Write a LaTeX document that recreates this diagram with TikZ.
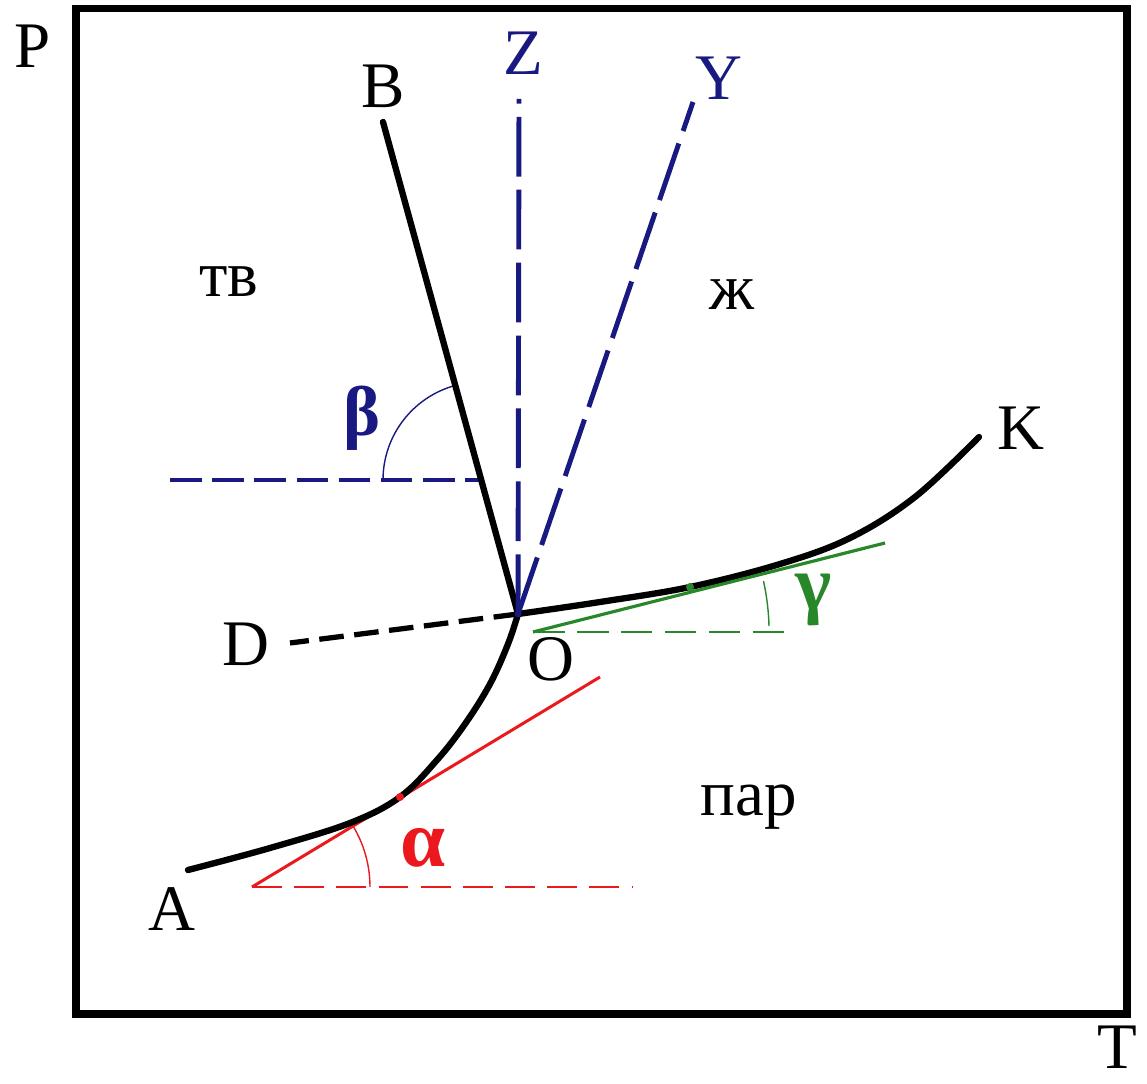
\documentclass[tikz,border=0pt]{standalone}
\usepackage{fontspec}
\setmainfont{Liberation Serif}
\definecolor{dblue}{RGB}{25,25,130}
\definecolor{dgreen}{RGB}{40,135,40}
\definecolor{dred}{RGB}{235,25,30}
\tikzset{
  lbl/.style={font=\fontsize{37}{40}\selectfont, inner sep=0pt, anchor=base},
  greek/.style={font=\fontsize{#1}{#1}\selectfont\bfseries, inner sep=0pt},
  frame/.style={line width=4pt},
  blackcurve/.style={line width=3.6pt, line cap=round, line join=round},
  bluedash/.style={dblue, line width=2.8pt, dash pattern=on 18pt off 6pt},
  bluelong/.style={dblue, line width=2.8pt, dash pattern=on 34pt off 7.5pt},
  blackdash/.style={line width=3pt, dash pattern=on 14pt off 6pt},
  redline/.style={dred, line width=1.7pt},
  reddash/.style={dred, line width=1.3pt, dash pattern=on 17pt off 7pt},
  greenline/.style={dgreen, line width=1.8pt},
  greendash/.style={dgreen, line width=1.3pt, dash pattern=on 18pt off 7pt},
  anglearc/.style={line width=0.8pt},
}
\begin{document}
\begin{tikzpicture}[x=0.02cm,y=-0.02cm]
\useasboundingbox (0,0) rectangle (1147,1084);
\fill[white] (0,0) rectangle (1147,1084);

% frame
\draw[frame] (76,8.5) rectangle (1127,1014);

% key points
\coordinate (O) at (518,614);
\coordinate (Bend) at (383,122);
\coordinate (Zend) at (519,99);
\coordinate (Yend) at (693,102);
\coordinate (Dend) at (290,643);
\coordinate (Kend) at (979,437);
\coordinate (Aend) at (188,870);
% upper curve points
\coordinate (k1) at (600,602);
\coordinate (k2) at (690,587);
\coordinate (k3) at (780,564);
\coordinate (k4) at (850,538);
\coordinate (k5) at (915,497);
% lower curve points
\coordinate (a1) at (508,644);
\coordinate (a2) at (490,684);
\coordinate (a3) at (465,724);
\coordinate (a4) at (437,760);
\coordinate (a5) at (400,797);
\coordinate (a6) at (350,823);
\coordinate (a7) at (270,848);

% tangent construction points
\coordinate (Rs) at (252,887);
\coordinate (Re) at (600,677);
\coordinate (Rd) at (633,887);
\coordinate (Gs) at (533,632);
\coordinate (Ge) at (885,543);
\coordinate (Gd) at (792,632);
\coordinate (Bs) at (170,480);
\coordinate (Bc) at (481,480);

% red construction
\draw[reddash] (Rs) -- (Rd);
\draw[redline] (Rs) -- (Re);
\draw[dred,anglearc] (Rs) ++(118,0) arc[start angle=0, end angle=-31.1, radius=118];

% green construction
\draw[greendash] (Gs) -- (Gd);
\draw[dgreen,anglearc] (Gs) ++(236,-6) arc[start angle=-1.5, end angle=-12.5, radius=236];

% blue horizontal and arc
\draw[bluedash] (Bs) -- (Bc);
\draw[dblue,anglearc] (Bc) ++(-98,0) arc[start angle=180, end angle=254.7, radius=98];

% black curves
\draw[blackcurve] (O) -- (Bend);
\draw[blackcurve] plot[smooth, tension=0.6] coordinates {(O) (k1) (k2) (k3) (k4) (k5) (Kend)};
\draw[blackcurve] plot[smooth, tension=0.6] coordinates {(O) (a1) (a2) (a3) (a4) (a5) (a6) (a7) (Aend)};
\draw[blackdash] (O) -- (Dend);

% green tangent over curve
\draw[greenline] (Gs) -- (Ge);
\fill[dgreen] (k2) circle (4);
\fill[dred] (a5) circle (4);

% blue dashed lines
\draw[bluelong] (O) -- (Zend);
\draw[bluelong] (O) -- (Yend);
\fill[dblue] (O) circle (3.5);

% labels
\node[lbl] (P) at (33,68) {P};
\node[lbl] (T) at (1117,1068) {T};
\node[lbl] (B) at (383,108) {B};
\node[lbl, text=dblue] (Z) at (523,75) {Z};
\node[lbl, text=dblue] (Y) at (719,100) {Y};
\node[lbl] (K) at (1021,450) {K};
\node[lbl] (D) at (246,665) {D};
\node[lbl] (Ol) at (551,681) {O};
\node[lbl] (A) at (172,930) {A};
\node[lbl] (tv) at (229,297) {тв};
\node[lbl] (zh) at (732,310) {ж};
\node[lbl] (par) at (749,815) {пар};

\node[greek=40, text=dblue] (beta) at (362,418) {β};
\node[greek=44, text=dgreen] (gamma) at (814,600) {γ};
\node[greek=46, text=dred] (alpha) at (423,848) {α};
\end{tikzpicture}
\end{document}
